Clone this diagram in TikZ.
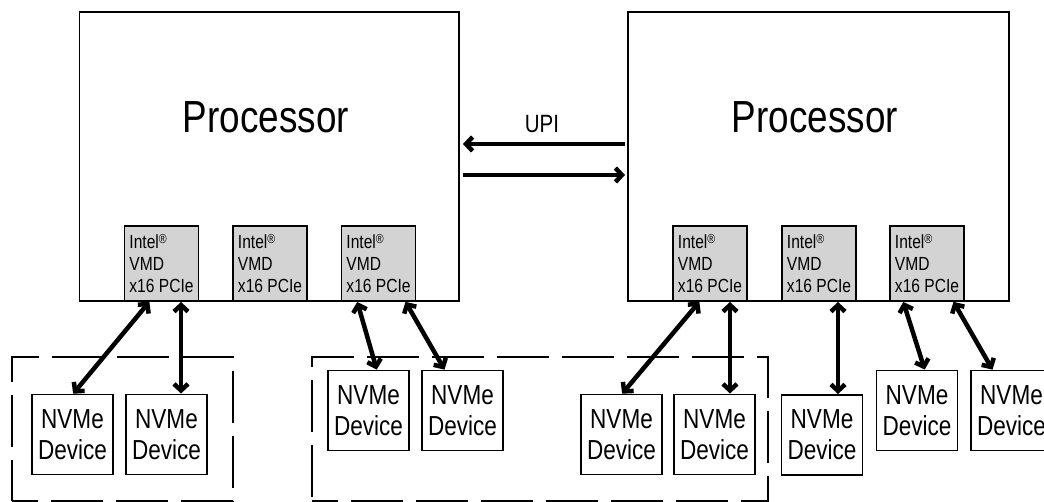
\documentclass[tikz,border=0pt]{standalone}
\usepackage{fontspec}
\setmainfont{Liberation Sans}[FakeStretch=0.82]
\usetikzlibrary{arrows.meta,calc}
\definecolor{vmdgray}{RGB}{211,211,211}
\newcommand{\regmark}{\raisebox{0.3em}{\fontsize{13}{13}\selectfont ®}}
\begin{document}
\begin{tikzpicture}[x=1pt,y=-1pt,
  box/.style={draw, line width=1.6pt, inner sep=0pt, outer sep=0pt},
  proc/.style={box, fill=white},
  vmd/.style={box, fill=vmdgray, minimum width=74pt, minimum height=75pt, align=left, font=\fontsize{19}{22}\selectfont},
  nvme/.style={box, fill=white, minimum width=81pt, minimum height=80pt, align=center, font=\fontsize{27.5}{31}\selectfont},
  group/.style={draw, line width=1.6pt, dash pattern=on 52pt off 13pt, dash phase=26pt, inner sep=0pt, minimum height=144pt},
  link/.style={line width=4.5pt, {Straight Barb[length=6.5pt,width=14pt]}-{Straight Barb[length=6.5pt,width=14pt]}, shorten <=1pt, shorten >=1pt},
  upi/.style={line width=4.5pt, -{Straight Barb[length=6.5pt,width=14pt]}},
  title/.style={font=\fontsize{45}{54}\selectfont, inner sep=0pt},
  upilabel/.style={font=\fontsize{25}{30}\selectfont, inner sep=0pt},
]
\useasboundingbox (0,0) rectangle (1044,502);

% groups
\node[group, minimum width=221pt] (g1) at (122.5,429) {};
\node[group, minimum width=456pt] (g2) at (540,429) {};

% processors
\node[proc, minimum width=379.5pt, minimum height=289pt] (pL) at (269.25,156.5) {};
\node[proc, minimum width=381pt, minimum height=289pt] (pR) at (818.5,156.5) {};
\node[title] (tL) at (266,117) {Processor};
\node[title] (tR) at (815,117) {Processor};

% VMD blocks
\node[vmd] (vL1) at (161.5,263.5) {Intel\regmark\\VMD\\x16 PCIe};
\node[vmd] (vL2) at (270,263.5) {Intel\regmark\\VMD\\x16 PCIe};
\node[vmd] (vL3) at (378.5,263.5) {Intel\regmark\\VMD\\x16 PCIe};
\node[vmd] (vR1) at (710,263.5) {Intel\regmark\\VMD\\x16 PCIe};
\node[vmd] (vR2) at (819,263.5) {Intel\regmark\\VMD\\x16 PCIe};
\node[vmd] (vR3) at (927,263.5) {Intel\regmark\\VMD\\x16 PCIe};

% NVMe devices
\node[nvme] (n1) at (72.5,434.5) {NVMe\\Device};
\node[nvme] (n2) at (166.5,434.5) {NVMe\\Device};
\node[nvme] (n3) at (368.5,410.5) {NVMe\\Device};
\node[nvme] (n4) at (462.5,410.5) {NVMe\\Device};
\node[nvme] (n5) at (621.5,434.5) {NVMe\\Device};
\node[nvme] (n6) at (714.5,434.5) {NVMe\\Device};
\node[nvme] (n7) at (822,435) {NVMe\\Device};
\node[nvme] (n8) at (917,410.5) {NVMe\\Device};
\node[nvme] (n9) at (1011.5,410.5) {NVMe\\Device};

% UPI
\node[upilabel] (upi) at (542,124) {UPI};
\coordinate (u1) at (0,144);
\coordinate (u2) at (0,175);
\draw[upi, shorten <=3pt, shorten >=4pt] (pR.west |- u1) -- (pL.east |- u1);
\draw[upi, shorten <=4pt, shorten >=3pt] (pL.east |- u2) -- (pR.west |- u2);

% links
\draw[link] ($(vL1.south)+(-11.5,0)$) -- (n1.north);
\draw[link] ($(vL1.south)+(19.5,0)$) -- ($(n2.north)+(14.5,0)$);
\draw[link] ($(vL3.south)+(-21.5,0)$) -- ($(n3.north)+(8.5,0)$);
\draw[link] ($(vL3.south)+(26.5,0)$) -- ($(n4.north)+(-17.5,0)$);
\draw[link] ($(vR1.south)+(-10,0)$) -- (n5.north);
\draw[link] ($(vR1.south)+(20,0)$) -- ($(n6.north)+(15.5,0)$);
\draw[link] ($(vR2.south)+(19,0)$) -- ($(n7.north)+(16,0)$);
\draw[link] ($(vR3.south)+(-24,0)$) -- ($(n8.north)+(8,0)$);
\draw[link] ($(vR3.south)+(26,0)$) -- ($(n9.north)+(-18.5,0)$);
\end{tikzpicture}
\end{document}
